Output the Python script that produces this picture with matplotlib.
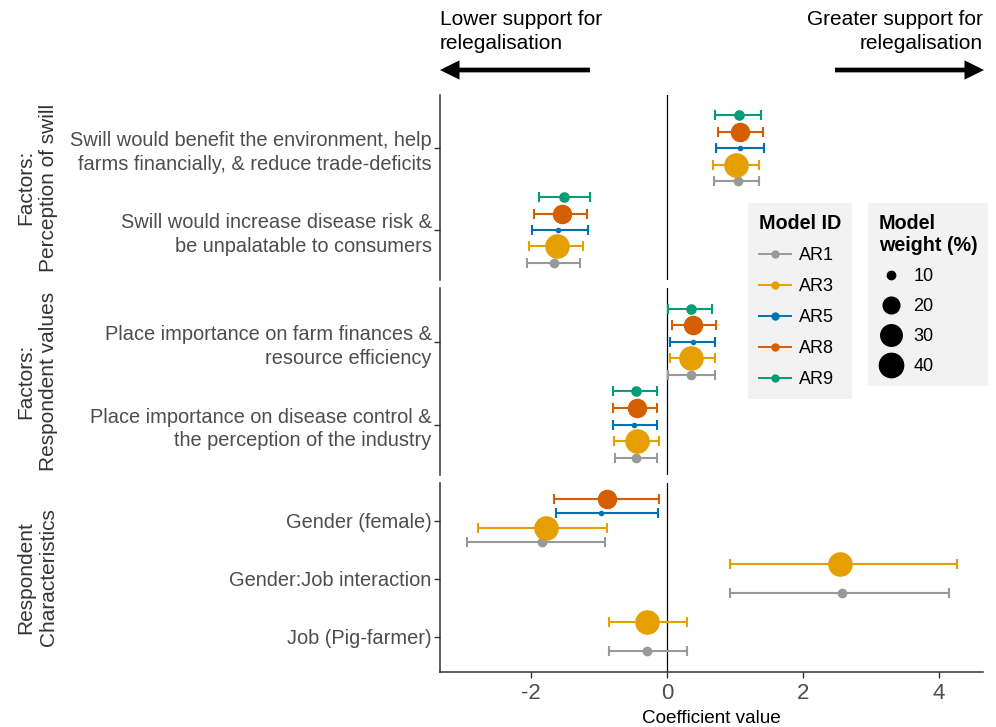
import numpy as np
import matplotlib
matplotlib.use('Agg')
import matplotlib.pyplot as plt
from matplotlib.lines import Line2D

plt.rcParams['font.family'] = ['Liberation Sans', 'DejaVu Sans']

# models and their styling
models = ['AR1', 'AR3', 'AR5', 'AR8', 'AR9']
model_colors = ['#999999', '#E69F00', '#0072B2', '#D55E00', '#009E73']
model_weights = [10, 36, 2.5, 23, 11]

panel_titles = ['Factors:\nPerception of swill', 'Factors:\nRespondent values',
                'Respondent\nCharacteristics']
row_labels = ['Swill would benefit the environment, help\nfarms financially, & reduce trade-deficits',
              'Swill would increase disease risk &\nbe unpalatable to consumers',
              'Place importance on farm finances &\nresource efficiency',
              'Place importance on disease control &\nthe perception of the industry',
              'Gender (female)',
              'Gender:Job interaction',
              'Job (Pig-farmer)']
panel_rows = [[0, 1], [2, 3], [4, 5, 6]]

nan = np.nan
ar1_est = [1.04, -1.66, 0.36, -0.45, -1.84, 2.58, -0.30]
ar1_lo = [0.69, -2.06, 0.02, -0.77, -2.94, 0.92, -0.86]
ar1_hi = [1.35, -1.28, 0.70, -0.14, -0.91, 4.15, 0.29]

ar3_est = [1.01, -1.62, 0.36, -0.44, -1.78, 2.54, -0.29]
ar3_lo = [0.67, -2.03, 0.05, -0.78, -2.78, 0.92, -0.86]
ar3_hi = [1.35, -1.23, 0.70, -0.12, -0.89, 4.27, 0.29]

ar5_est = [1.07, -1.60, 0.38, -0.48, -0.97, nan, nan]
ar5_lo = [0.72, -1.99, 0.05, -0.79, -1.64, nan, nan]
ar5_hi = [1.43, -1.16, 0.70, -0.15, -0.13, nan, nan]

ar8_est = [1.08, -1.55, 0.38, -0.44, -0.89, nan, nan]
ar8_lo = [0.75, -1.95, 0.07, -0.79, -1.66, nan, nan]
ar8_hi = [1.42, -1.18, 0.72, -0.14, -0.12, nan, nan]

ar9_est = [1.06, -1.51, 0.36, -0.46, nan, nan, nan]
ar9_lo = [0.71, -1.89, 0.01, -0.79, nan, nan, nan]
ar9_hi = [1.38, -1.14, 0.66, -0.15, nan, nan, nan]

est = [ar1_est, ar3_est, ar5_est, ar8_est, ar9_est]
lo = [ar1_lo, ar3_lo, ar5_lo, ar8_lo, ar9_lo]
hi = [ar1_hi, ar3_hi, ar5_hi, ar8_hi, ar9_hi]

size_breaks = [10, 20, 30, 40]
x_ticks = [-2, 0, 2, 4]


def weight_to_ms(w):
    return np.interp(w, [0, 10, 20, 30, 40, 50], [2.0, 6.0, 12.0, 15.5, 17.5, 19.0])


W, H = 996, 727
fig = plt.figure(figsize=(W / 100, H / 100), dpi=100)

panel_px = [(95, 280), (288, 475), (483, 672)]
left_px, right_px = 440, 983
axes = []
for top, bot in panel_px:
    ax = fig.add_axes([left_px / W, 1 - bot / H, (right_px - left_px) / W, (bot - top) / H])
    axes.append(ax)

text_gray = '#4D4D4D'
axis_col = '#333333'

for p, ax in enumerate(axes):
    rows = panel_rows[p]
    n = len(rows)
    ax.axvline(0, color='black', lw=0.9, zorder=1)
    for i, r in enumerate(rows):
        ypos = n - 1 - i
        present = [m for m in range(len(models)) if not np.isnan(est[m][r])]
        k = len(present)
        for j, m in enumerate(present):
            y = ypos + (j - (k - 1) / 2) / k
            e = est[m][r]
            ax.errorbar([e], [y], xerr=[[e - lo[m][r]], [hi[m][r] - e]], fmt='none',
                        ecolor=model_colors[m], elinewidth=1.5, capsize=3.5, capthick=1.5, zorder=2)
            ax.plot([e], [y], 'o', color=model_colors[m], ms=weight_to_ms(model_weights[m]),
                    mec=model_colors[m], zorder=3)
    ax.set_ylim(-0.61, n - 1 + 0.65)
    ax.set_xlim(-3.34, 4.65)
    ax.set_yticks(range(n))
    ax.set_yticklabels([row_labels[r] for r in rows][::-1], fontsize=14.4, color=text_gray,
                       linespacing=1.33)
    for s in ['top', 'right']:
        ax.spines[s].set_visible(False)
    ax.spines['left'].set_color(axis_col)
    ax.spines['left'].set_linewidth(1.1)
    ax.tick_params(axis='y', length=4, width=1.0, color=axis_col, pad=2)
    if p < 2:
        ax.spines['bottom'].set_visible(False)
        ax.set_xticks([])
    else:
        ax.spines['bottom'].set_color(axis_col)
        ax.spines['bottom'].set_linewidth(1.1)
        ax.set_xticks(x_ticks)
        ax.set_xticklabels([str(t) for t in x_ticks], fontsize=16, color=text_gray)
        ax.tick_params(axis='x', length=4, width=1.0, color=axis_col, pad=4)
        ax.set_xlabel('Coefficient value', fontsize=13.6, color='black', labelpad=4)
    top, bot = panel_px[p]
    fig.text(37 / W, 1 - (top + bot) / 2 / H, panel_titles[p], rotation=90, ha='center',
             va='center', fontsize=15, color=axis_col, linespacing=1.25)

# direction annotations
fig.text(left_px / W, 1 - 10 / H, 'Lower support for\nrelegalisation', ha='left', va='top',
         fontsize=15, linespacing=1.36)
fig.text(right_px / W, 1 - 10 / H, 'Greater support for\nrelegalisation', ha='right', va='top',
         fontsize=15, linespacing=1.36, multialignment='right')
arrow_props = dict(arrowstyle='-|>,head_length=0.85,head_width=0.42', lw=3.4, color='black',
                   shrinkA=0, shrinkB=0, mutation_scale=10, capstyle='butt', joinstyle='miter')
axes[0].annotate('', xy=(440, H - 70), xytext=(590, H - 70), xycoords='figure pixels',
                 textcoords='figure pixels', arrowprops=arrow_props, annotation_clip=False)
axes[0].annotate('', xy=(984, H - 70), xytext=(835, H - 70), xycoords='figure pixels',
                 textcoords='figure pixels', arrowprops=arrow_props, annotation_clip=False)

# legends
id_handles = [Line2D([0], [0], color=c, lw=1.4, marker='o', ms=5) for c in model_colors]
leg1 = fig.legend(id_handles, models, title='Model ID', loc='upper left',
                  bbox_to_anchor=(748 / W, 1 - 203 / H), frameon=True, facecolor='#F2F2F2',
                  edgecolor='none', fancybox=False, framealpha=1, fontsize=13,
                  title_fontproperties={'weight': 'bold', 'size': 14.2}, alignment='left',
                  labelspacing=0.78, handlelength=1.8, handletextpad=0.45, borderpad=0.6,
                  borderaxespad=0)
size_handles = [Line2D([0], [0], color='black', lw=0, marker='o', ms=weight_to_ms(s))
                for s in size_breaks]
leg2 = fig.legend(size_handles, [str(s) for s in size_breaks], title='Model\nweight (%)',
                  loc='upper left', bbox_to_anchor=(868 / W, 1 - 203 / H), frameon=True,
                  facecolor='#F2F2F2', edgecolor='none', fancybox=False, framealpha=1,
                  fontsize=13, title_fontproperties={'weight': 'bold', 'size': 14.2},
                  alignment='left', labelspacing=0.72, handlelength=1.4, handletextpad=0.5,
                  borderpad=0.6, borderaxespad=0)

fig.savefig('out.png', dpi=100)
